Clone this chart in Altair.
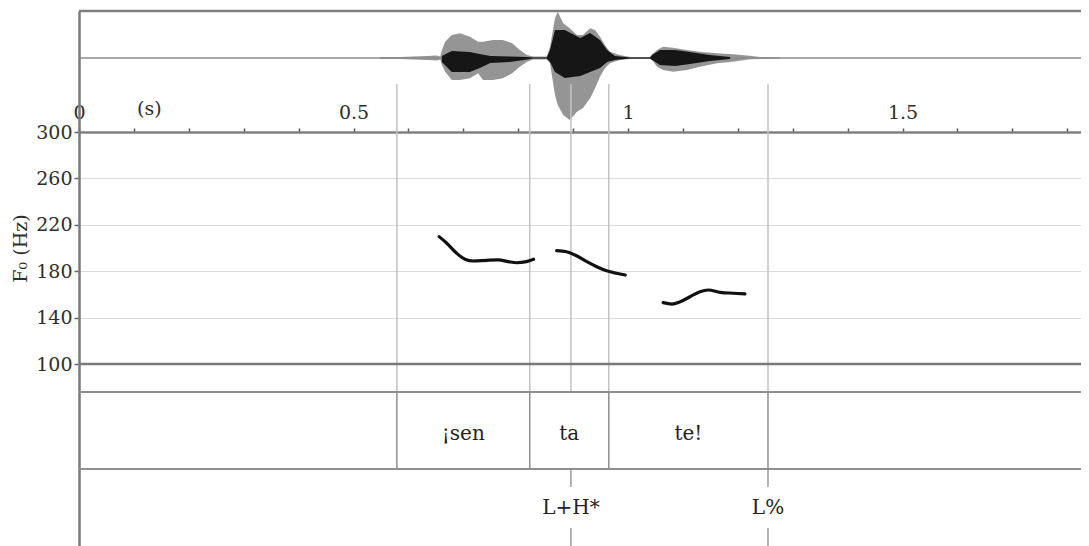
import altair as alt
import pandas as pd

# ---------------- data ----------------
# waveform envelope: time (s), upper / lower amplitude (units of the largest positive peak)
wave_t = [0.548, 0.585, 0.634, 0.652, 0.658, 0.661, 0.667, 0.679, 0.694, 0.712, 0.727,
          0.736, 0.754, 0.772, 0.789, 0.803, 0.816, 0.827, 0.852, 0.858, 0.867, 0.872,
          0.882, 0.894, 0.907, 0.918, 0.931, 0.940, 0.949, 0.958, 0.967, 0.985, 1.004,
          1.040, 1.044, 1.053, 1.064, 1.082, 1.107, 1.131, 1.162, 1.191, 1.222, 1.240, 1.277]
wave_hi = [0.022, 0.022, 0.043, 0.054, 0.033, 0.174, 0.354, 0.500, 0.537, 0.463, 0.354,
           0.354, 0.391, 0.391, 0.320, 0.174, 0.065, 0.033, 0.033, 0.246, 0.863, 1.007,
           0.754, 0.646, 0.500, 0.500, 0.646, 0.609, 0.463, 0.283, 0.137, 0.065, 0.022,
           0.022, 0.080, 0.174, 0.246, 0.224, 0.174, 0.137, 0.102, 0.080, 0.050, 0.022, 0.011]
wave_lo = [-0.022, -0.022, -0.043, -0.054, -0.033, -0.152, -0.298, -0.478, -0.478, -0.441, -0.333,
           -0.478, -0.478, -0.441, -0.333, -0.189, -0.080, -0.033, -0.033, -0.115, -0.804, -1.022,
           -1.239, -1.348, -1.167, -1.087, -0.876, -0.659, -0.407, -0.224, -0.115, -0.043, -0.022,
           -0.022, -0.043, -0.189, -0.261, -0.298, -0.261, -0.189, -0.115, -0.080, -0.028, -0.022, -0.011]
# dark core of the waveform
core_t = [0.661, 0.679, 0.712, 0.730, 0.749, 0.785, 0.816, 0.827, 0.852, 0.858, 0.867, 0.885,
          0.913, 0.931, 0.949, 0.962, 0.976, 1.004, 1.040, 1.044, 1.058, 1.086, 1.113, 1.149, 1.186]
core_hi = [0.043, 0.152, 0.130, 0.087, 0.043, 0.033, 0.022, 0.011, 0.011, 0.174, 0.609, 0.609,
           0.435, 0.543, 0.391, 0.174, 0.043, 0.011, 0.011, 0.065, 0.174, 0.174, 0.130, 0.065, 0.022]
core_lo = [-0.087, -0.304, -0.304, -0.217, -0.109, -0.087, -0.033, -0.011, -0.011, -0.087, -0.304, -0.435,
           -0.391, -0.304, -0.217, -0.087, -0.043, -0.011, -0.011, -0.043, -0.152, -0.174, -0.130, -0.065, -0.022]

# F0 contour (Hz), three voiced stretches
f0_t1 = [0.656, 0.670, 0.688, 0.703, 0.718, 0.743, 0.764, 0.782, 0.797, 0.815, 0.828]
f0_hz1 = [209.8, 204.1, 195.4, 190.3, 188.8, 189.4, 189.7, 188.2, 187.3, 188.2, 190.3]
f0_t2 = [0.870, 0.888, 0.907, 0.925, 0.943, 0.961, 0.979, 0.995]
f0_hz2 = [197.7, 196.8, 193.1, 188.2, 183.9, 180.4, 178.2, 176.7]
f0_t3 = [1.064, 1.080, 1.095, 1.113, 1.131, 1.146, 1.168, 1.192, 1.213]
f0_hz3 = [152.9, 151.7, 153.7, 158.0, 162.3, 163.8, 161.8, 161.0, 160.4]

# annotation tiers
syll_bounds = [0.579, 0.821, 0.965, 1.255]
syll_labels = ["¡sen", "ta", "te!"]
tone_times = [0.896, 1.255]
tone_labels = ["L+H*", "L%"]

# axes
time_ticks = [0.0, 0.1, 0.2, 0.3, 0.4, 0.5, 0.6, 0.7, 0.8, 0.9, 1.0,
              1.1, 1.2, 1.3, 1.4, 1.5, 1.6, 1.7, 1.8]
f0_ticks = [100, 140, 180, 220, 260, 300]
unit_label = ["(s)"]
unit_label_t = [0.128]

# ---------------- layout ----------------
FONT = "DejaVu Serif"
W, H = 1002, 535
PX_PER_S = 549.0
T_MAX = W / PX_PER_S
PY_AXIS, PY_F0_LOW, PY_TIER1, PY_TIER2 = 121, 353, 381, 458
PY_WAVE0, PY_BOUND_TOP, PY_UNIT = 47, 73, 98
PY_GAP_TOP, PY_GAP_BOT = 476, 517

hz_px = (PY_F0_LOW - PY_AXIS) / (300 - 100)
f0_dom = [100 - (H - PY_F0_LOW) / hz_px, 300 + PY_AXIS / hz_px]
tier_px = PY_TIER2 - PY_TIER1
tier_dom = [0, H / tier_px]
wave_px = 46.0
wave_dom = [-(H - PY_WAVE0) / wave_px, PY_WAVE0 / wave_px]


def row(py):
    return (H - py) / tier_px


x_scale = alt.Scale(domain=[0, T_MAX], nice=False, zero=False)
x_axis = alt.Axis(
    orient="top", offset=-PY_AXIS, values=time_ticks, format=".1~f",
    labelExpr="datum.value * 2 == round(datum.value * 2) ? datum.label : ''",
    title=None, grid=False, domainColor="#808080", domainWidth=2.5,
    tickColor="#555555", tickSize=4, tickWidth=1.5, labelFont=FONT,
    labelFontSize=19, labelColor="#2e2e2e", labelPadding=6,
    labelFlush=False, labelOverlap=False, labelBound=False,
)
y_axis = alt.Axis(
    values=f0_ticks, grid=True, gridColor="#dadada", gridWidth=1,
    domainColor="#7a7a7a", domainWidth=2.5, tickColor="#666666", tickSize=5,
    tickWidth=1.5, labelFont=FONT, labelFontSize=19, labelColor="#2e2e2e",
    labelPadding=2, labelOverlap=False, title="F₀ (Hz)", titleFont=FONT,
    titleFontSize=19, titleFontWeight="normal", titleColor="#2e2e2e",
    titlePadding=5, titleY=(PY_AXIS + PY_F0_LOW) / 2,
)


def xq(field):
    return alt.X(f"{field}:Q", scale=x_scale, axis=x_axis)


def yq(field, dom, axis=None):
    return alt.Y(f"{field}:Q", scale=alt.Scale(domain=dom, nice=False, zero=False), axis=axis)


wave_df = pd.DataFrame({"t": wave_t, "hi": wave_hi, "lo": wave_lo})
core_df = pd.DataFrame({"t": core_t, "hi": core_hi, "lo": core_lo})
f0_df = pd.concat([
    pd.DataFrame({"t": f0_t1, "hz": f0_hz1, "seg": 1}),
    pd.DataFrame({"t": f0_t2, "hz": f0_hz2, "seg": 2}),
    pd.DataFrame({"t": f0_t3, "hz": f0_hz3, "seg": 3}),
])

all_bounds = sorted(set(syll_bounds + tone_times))
f0_bound_df = pd.DataFrame({"t": all_bounds, "top": row(PY_BOUND_TOP), "bot": row(PY_TIER1)})
tier1_bound_df = pd.DataFrame({"t": syll_bounds, "top": row(PY_TIER1), "bot": row(PY_TIER2)})
tier2_bound_df = pd.concat([
    pd.DataFrame({"t": tone_times, "top": row(PY_TIER2), "bot": row(PY_GAP_TOP)}),
    pd.DataFrame({"t": tone_times, "top": row(PY_GAP_BOT), "bot": row(H)}),
])
syll_df = pd.DataFrame({
    "t": [(a + b) / 2 for a, b in zip(syll_bounds[:-1], syll_bounds[1:])],
    "label": syll_labels, "r": row(PY_TIER1 + tier_px / 2 + 3),
})
tone_df = pd.DataFrame({"t": tone_times, "label": tone_labels, "r": row(PY_TIER2 + tier_px / 2)})
unit_df = pd.DataFrame({"t": unit_label_t, "label": unit_label, "r": row(PY_UNIT)})

wave_zero = alt.Chart(pd.DataFrame({"a": [0.0]})).mark_rule(
    color="#8c8c8c", strokeWidth=1.5).encode(y=yq("a", wave_dom))
wave_outer = alt.Chart(wave_df).mark_area(color="#8a8a8a", opacity=0.9).encode(
    x=xq("t"), y=yq("hi", wave_dom), y2="lo")
wave_core = alt.Chart(core_df).mark_area(color="#161616").encode(
    x=xq("t"), y=yq("hi", wave_dom), y2="lo")

f0_bounds = alt.Chart(f0_bound_df).mark_rule(color="#c2c2c2", strokeWidth=1.5).encode(
    x=xq("t"), y=yq("top", tier_dom), y2="bot")
tier1_bounds = alt.Chart(tier1_bound_df).mark_rule(color="#8f8f8f", strokeWidth=1.5).encode(
    x=xq("t"), y=yq("top", tier_dom), y2="bot")
tier2_bounds = alt.Chart(tier2_bound_df).mark_rule(color="#9a9a9a", strokeWidth=1.5).encode(
    x=xq("t"), y=yq("top", tier_dom), y2="bot")

f0_low_rule = alt.Chart(pd.DataFrame({"hz": [100]})).mark_rule(
    color="#7a7a7a", strokeWidth=2.5).encode(y=yq("hz", f0_dom))
tier_rules = alt.Chart(pd.DataFrame({"r": [row(PY_TIER1), row(PY_TIER2)]})).mark_rule(
    color="#8f8f8f", strokeWidth=2).encode(y=yq("r", tier_dom))
top_rule = alt.Chart(pd.DataFrame({"r": [row(0)]})).mark_rule(
    color="#808080", strokeWidth=2.5).encode(y=yq("r", tier_dom))

f0_line = alt.Chart(f0_df).mark_line(
    color="#111111", strokeWidth=3.2, interpolate="monotone", strokeCap="round").encode(
    x=xq("t"), y=yq("hz", f0_dom, axis=y_axis), detail="seg:N")

syll_text = alt.Chart(syll_df).mark_text(
    font=FONT, fontSize=20, color="#222222", baseline="middle", align="center").encode(
    x=xq("t"), y=yq("r", tier_dom), text="label:N")
tone_text = alt.Chart(tone_df).mark_text(
    font=FONT, fontSize=20, color="#222222", baseline="middle", align="center").encode(
    x=xq("t"), y=yq("r", tier_dom), text="label:N")
unit_text = alt.Chart(unit_df).mark_text(
    font=FONT, fontSize=19, color="#2e2e2e", baseline="middle", align="center").encode(
    x=xq("t"), y=yq("r", tier_dom), text="label:N")

chart = alt.layer(
    wave_zero, wave_outer, wave_core, f0_bounds, tier1_bounds, tier2_bounds,
    f0_low_rule, tier_rules, top_rule, f0_line, syll_text, tone_text, unit_text,
).resolve_scale(y="independent").properties(
    width=W, height=H,
    autosize=alt.AutoSizeParams(type="none"),
    padding={"left": 71, "top": 3, "right": 0, "bottom": 0},
    background="white",
).configure_view(stroke=None)

chart.save("out.html", embed_options={"renderer": "svg", "actions": False})
